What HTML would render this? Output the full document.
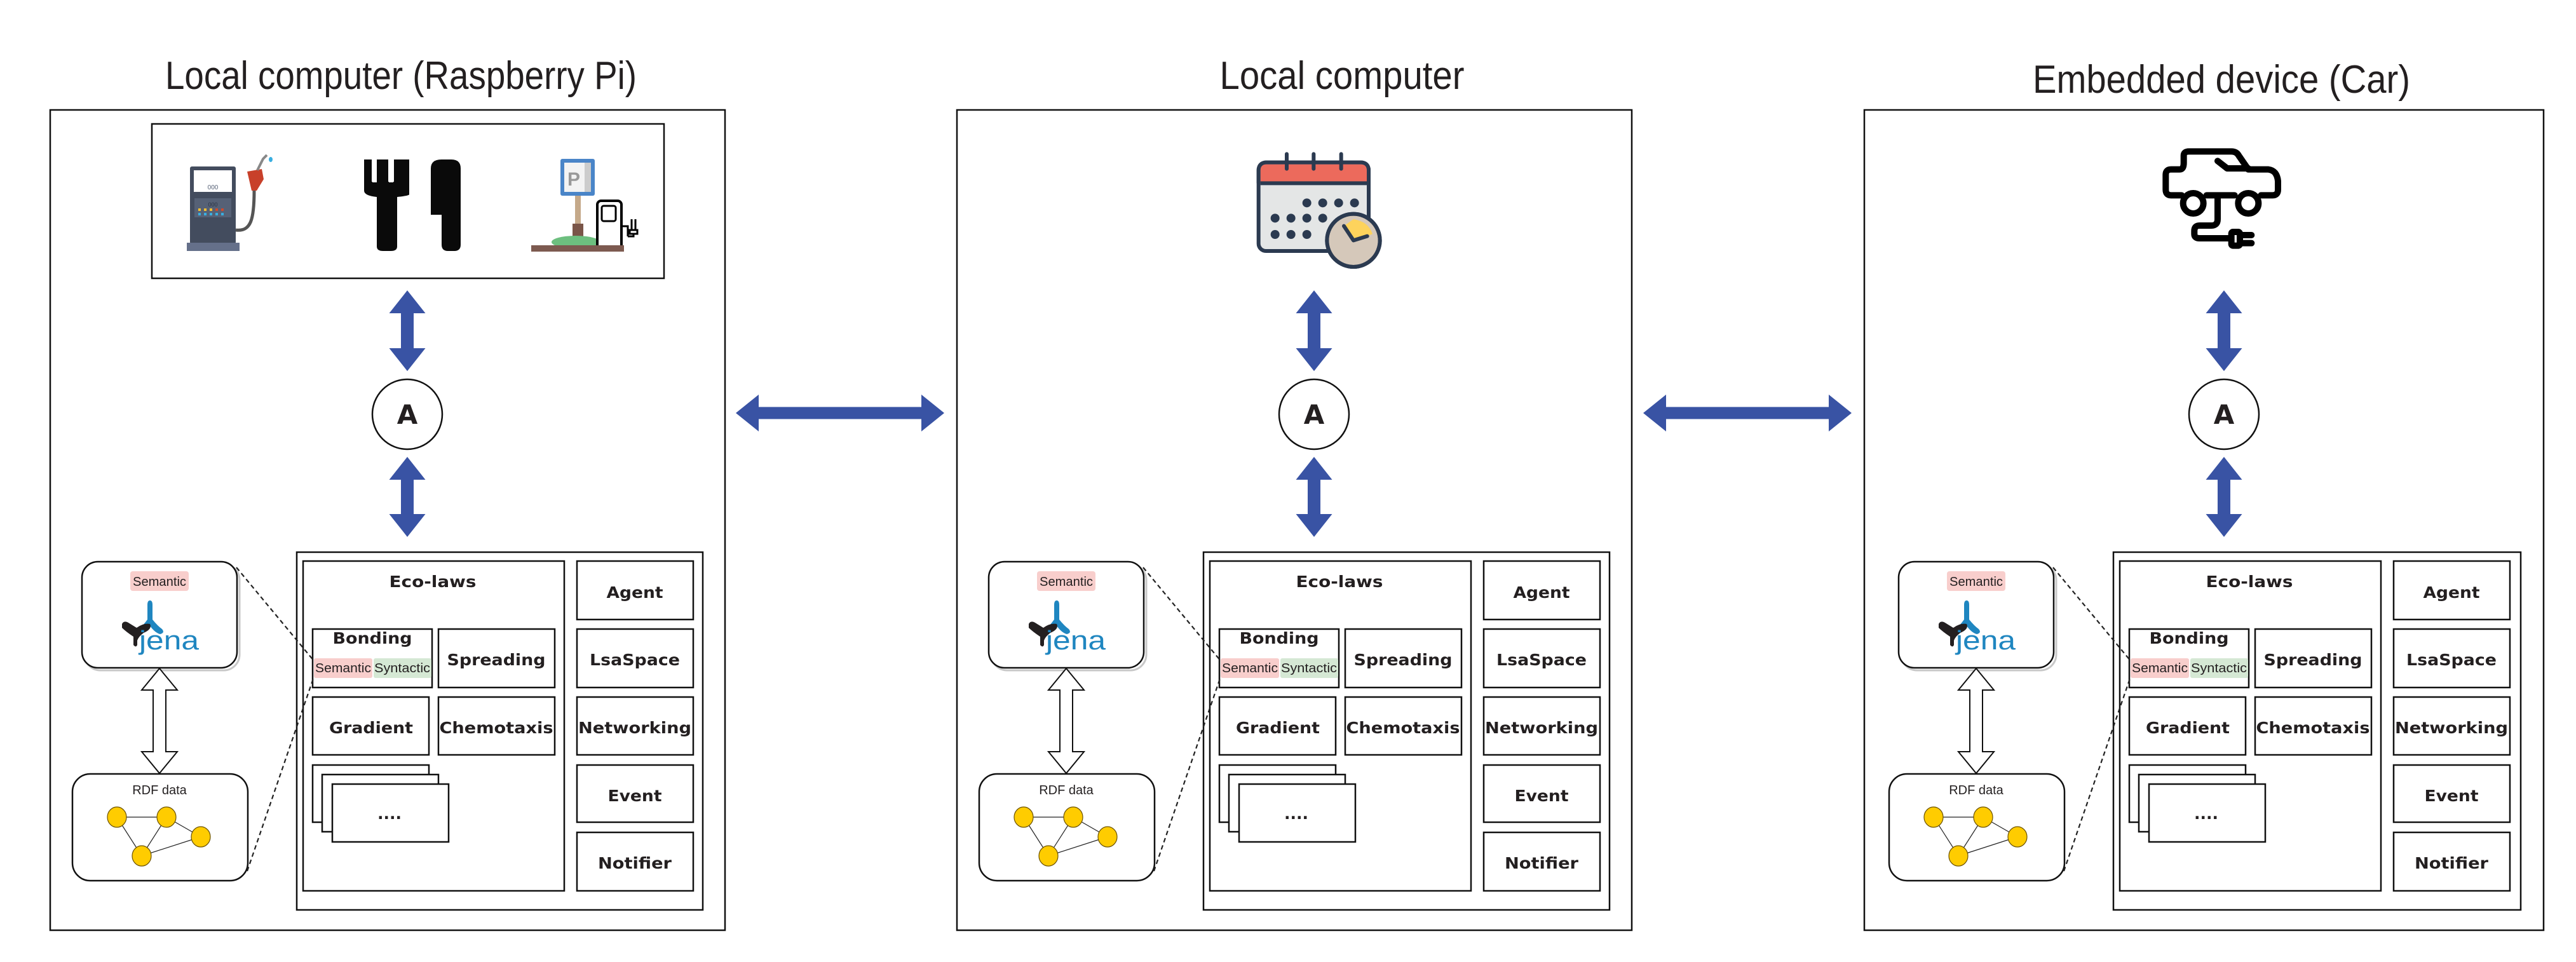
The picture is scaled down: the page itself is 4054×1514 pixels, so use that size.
<!DOCTYPE html>
<html><head><meta charset="utf-8">
<style>
html,body{margin:0;padding:0;background:#fff;}
svg{display:block;}
.t{font-family:"Liberation Sans",Arial,sans-serif;fill:#231f20;}
.b{font-family:"DejaVu Sans","Liberation Sans",sans-serif;font-weight:bold;fill:#231f20;font-size:25px;}
.bx{fill:#fff;stroke:#111;stroke-width:2.5;}
</style></head>
<body>
<svg width="4054" height="1514" viewBox="0 0 4054 1514" xmlns="http://www.w3.org/2000/svg">

<!-- Titles -->
<text class="t" x="631" y="140" font-size="62" text-anchor="middle" textLength="742" lengthAdjust="spacingAndGlyphs">Local computer (Raspberry Pi)</text>
<text class="t" x="2112" y="140" font-size="62" text-anchor="middle" textLength="385" lengthAdjust="spacingAndGlyphs">Local computer</text>
<text class="t" x="3496" y="146" font-size="62" text-anchor="middle" textLength="594" lengthAdjust="spacingAndGlyphs">Embedded device (Car)</text>

<!-- Outer panels -->
<rect class="bx" x="79" y="173" width="1062" height="1291"/>
<rect class="bx" x="1506" y="173" width="1062" height="1291"/>
<rect class="bx" x="2934" y="173" width="1069" height="1291"/>

<!-- Horizontal arrows -->
<polygon fill="#3953a4" points="1158,650 1194,621 1194,640.5 1450,640.5 1450,621 1486,650 1450,679 1450,659.5 1194,659.5 1194,679"/>
<polygon fill="#3953a4" points="2586,650 2622,621 2622,640.5 2878,640.5 2878,621 2914,650 2878,679 2878,659.5 2622,659.5 2622,679"/>

<!-- Panel 1 icons box -->
<rect class="bx" x="239" y="195" width="806" height="243"/>
<!-- gas pump -->
<rect x="299" y="262" width="72" height="122" rx="3" fill="#434c5e"/>
<rect x="294" y="382" width="83" height="13" fill="#65708a"/>
<rect x="305" y="268" width="60" height="34" fill="#fff"/>
<text x="335" y="298" font-size="10" text-anchor="middle" fill="#566176" font-family="Liberation Sans,sans-serif">000</text>
<rect x="306" y="312" width="58" height="30" fill="#566176"/>
<text x="335" y="325" font-size="9" text-anchor="middle" fill="#2c3444" font-family="Liberation Sans,sans-serif">000</text>
<g fill="#f5c033"><rect x="312" y="328" width="4" height="4"/><rect x="321" y="328" width="4" height="4"/><rect x="330" y="328" width="4" height="4"/></g>
<g fill="#d04a2c"><rect x="339" y="328" width="4" height="4"/><rect x="348" y="328" width="4" height="4"/></g>
<g fill="#39aee0"><rect x="312" y="335" width="4" height="4"/><rect x="321" y="335" width="4" height="4"/><rect x="330" y="335" width="4" height="4"/><rect x="339" y="335" width="4" height="4"/><rect x="348" y="335" width="4" height="4"/></g>
<path d="M371,362 C395,365 400,345 400,300" stroke="#555" stroke-width="5" fill="none"/>
<path d="M389,270 L412,266 L415,282 L404,300 L396,300 Z" fill="#c8402a"/>
<path d="M405,268 L414,250 L420,244" stroke="#888" stroke-width="4" fill="none"/>
<ellipse cx="426" cy="251" rx="3" ry="4" fill="#39aee0"/>
<!-- fork -->
<path d="M573,251 H585 V286 H593 V251 H611 V286 H620 V251 H644 V306 Q644,308 625,310 V388 Q625,395 615,395 H603 Q593,395 593,388 V310 Q573,308 573,300 Z" fill="#0a0a0a"/>
<rect x="586" y="251" width="7" height="36" fill="#fff"/>
<rect x="612" y="251" width="7" height="36" fill="#fff"/>
<!-- knife -->
<path d="M678,338 V265 Q678,251 695,251 H710 Q725,251 725,265 V385 Q725,395 715,395 H705 Q695,395 695,385 V338 Z" fill="#0a0a0a"/>
<!-- parking / charger -->
<rect x="882" y="250" width="54" height="58" rx="3" fill="#4a85c8"/>
<rect x="888" y="256" width="42" height="46" fill="#f3f3f3"/>
<rect x="920" y="256" width="10" height="46" fill="#ccc"/>
<text x="903" y="292" font-size="30" font-weight="bold" fill="#999" font-family="Liberation Sans,sans-serif" text-anchor="middle">P</text>
<rect x="905" y="308" width="9" height="50" fill="#c5a98a"/>
<rect x="901" y="352" width="17" height="25" fill="#7a5548"/>
<ellipse cx="906" cy="381" rx="38" ry="10" fill="#6dbf7f"/>
<rect x="940" y="316" width="38" height="76" rx="6" fill="#fff" stroke="#000" stroke-width="4"/>
<rect x="947" y="324" width="22" height="24" rx="3" fill="none" stroke="#000" stroke-width="3"/>
<path d="M978,356 H988 V372 M994,345 V362 M1000,345 V362 M991,362 H1003 V368 H991 Z M997,368 V372 H988" stroke="#000" stroke-width="3" fill="none"/>
<rect x="836" y="386" width="146" height="10" fill="#7d5a50"/>

<!-- Panel 2 calendar -->
<g transform="translate(1960,225) scale(0.33333)">
<rect x="62" y="92" width="520" height="418" rx="35" fill="#e4e6e6" stroke="#2b3a50" stroke-width="18"/>
<path d="M71,188 V130 Q71,101 100,101 H544 Q573,101 573,130 V188 Z" fill="#ec6a5c"/>
<line x1="71" y1="190" x2="573" y2="190" stroke="#2b3a50" stroke-width="18"/>
<path d="M62,190 V130 Q62,92 100,92 H544 Q582,92 582,130 V190" fill="none" stroke="#2b3a50" stroke-width="18"/>
<g stroke="#2b3a50" stroke-width="18" stroke-linecap="round"><line x1="195" y1="52" x2="195" y2="122"/><line x1="322" y1="52" x2="322" y2="122"/><line x1="452" y1="52" x2="452" y2="122"/></g>
<g fill="#2b3a50"><circle cx="290" cy="283" r="21"/><circle cx="365" cy="283" r="21"/><circle cx="440" cy="283" r="21"/><circle cx="515" cy="283" r="21"/>
<circle cx="140" cy="355" r="21"/><circle cx="215" cy="355" r="21"/><circle cx="290" cy="355" r="21"/><circle cx="365" cy="355" r="21"/>
<circle cx="140" cy="432" r="21"/><circle cx="215" cy="432" r="21"/><circle cx="290" cy="432" r="21"/></g>
<circle cx="510" cy="460" r="125" fill="#d5c8ba" stroke="#2b3a50" stroke-width="18"/>
<path d="M465,392 L510,460 L600,430 Q580,370 510,360 Z" fill="#fdd35c"/>
<path d="M465,392 L510,460 L575,440" stroke="#2b3a50" stroke-width="18" fill="none" stroke-linecap="round" stroke-linejoin="round"/>
<circle cx="510" cy="460" r="125" fill="none" stroke="#2b3a50" stroke-width="18"/>
</g>

<!-- Panel 3 car -->
<g transform="translate(3390,220) scale(0.33333)" fill="none" stroke="#000" stroke-width="30" stroke-linecap="round" stroke-linejoin="round">
<path d="M130,262 H80 Q55,262 55,235 V165 Q55,140 80,140 H120 Q140,140 140,110 V75 Q140,55 165,55 H365 Q390,55 400,75 L445,140 H540 Q580,145 585,195 V235 Q585,262 560,262 H505"/>
<path d="M300,100 L345,135 H445"/>
<line x1="248" y1="262" x2="380" y2="262"/>
<circle cx="185" cy="300" r="48"/>
<circle cx="445" cy="300" r="48"/>
<path d="M300,268 V375 Q300,405 270,405 H215 Q190,405 190,430 V445 Q190,465 215,465 H360"/>
<rect x="365" y="435" width="40" height="65" rx="8"/>
<path d="M410,450 H460 M410,488 H460"/>
</g>

<!-- ===== Core group (panel 1) ===== -->
<g>
<polygon fill="#3953a4" points="641,457 669.5,493 651,493 651,548 669.5,548 641,584 612.5,548 631,548 631,493 612.5,493"/>
<circle cx="641" cy="652" r="55" fill="#fff" stroke="#111" stroke-width="2.5"/>
<text class="b" x="641" y="667" style="font-size:42px" text-anchor="middle">A</text>
<polygon fill="#3953a4" points="641,719 669.5,755 651,755 651,809 669.5,809 641,845 612.5,809 631,809 631,755 612.5,755"/>

<rect class="bx" x="467" y="869" width="639" height="563"/>
<rect class="bx" x="477" y="883" width="411" height="519"/>
<text class="b" x="681" y="924" text-anchor="middle" textLength="137" lengthAdjust="spacingAndGlyphs">Eco-laws</text>
<rect class="bx" x="492" y="990" width="188" height="92"/>
<text class="b" x="586" y="1013" text-anchor="middle" textLength="125" lengthAdjust="spacingAndGlyphs">Bonding</text>
<rect x="494" y="1036" width="92" height="31" rx="3" fill="#f8cecc"/>
<rect x="588" y="1036" width="91" height="31" rx="3" fill="#d5e8d4"/>
<text class="t" x="540" y="1058" font-size="20" text-anchor="middle" textLength="88" lengthAdjust="spacingAndGlyphs">Semantic</text>
<text class="t" x="633" y="1058" font-size="20" text-anchor="middle" textLength="88" lengthAdjust="spacingAndGlyphs">Syntactic</text>
<rect class="bx" x="690" y="990" width="183" height="92"/>
<text class="b" x="781" y="1047" text-anchor="middle" textLength="155" lengthAdjust="spacingAndGlyphs">Spreading</text>
<rect class="bx" x="492" y="1097" width="183" height="91"/>
<text class="b" x="584" y="1154" text-anchor="middle" textLength="132" lengthAdjust="spacingAndGlyphs">Gradient</text>
<rect class="bx" x="690" y="1097" width="183" height="91"/>
<text class="b" x="781" y="1154" text-anchor="middle" textLength="179" lengthAdjust="spacingAndGlyphs">Chemotaxis</text>
<rect class="bx" x="492" y="1204" width="183" height="90"/>
<rect class="bx" x="507" y="1219" width="183" height="90"/>
<rect class="bx" x="523" y="1234" width="183" height="91"/>
<text class="b" x="613" y="1289" text-anchor="middle">....</text>

<rect class="bx" x="908" y="883" width="183" height="92"/>
<text class="b" x="999" y="941" text-anchor="middle" textLength="89" lengthAdjust="spacingAndGlyphs">Agent</text>
<rect class="bx" x="908" y="990" width="183" height="92"/>
<text class="b" x="999" y="1047" text-anchor="middle" textLength="142" lengthAdjust="spacingAndGlyphs">LsaSpace</text>
<rect class="bx" x="908" y="1097" width="183" height="91"/>
<text class="b" x="999" y="1154" text-anchor="middle" textLength="178" lengthAdjust="spacingAndGlyphs">Networking</text>
<rect class="bx" x="908" y="1204" width="183" height="90"/>
<text class="b" x="999" y="1261" text-anchor="middle" textLength="85" lengthAdjust="spacingAndGlyphs">Event</text>
<rect class="bx" x="908" y="1310" width="183" height="92"/>
<text class="b" x="999" y="1367" text-anchor="middle" textLength="116" lengthAdjust="spacingAndGlyphs">Notifier</text>

<rect x="133" y="888" width="244" height="167" rx="25" fill="none" stroke="#c8c8c8" stroke-width="3"/>
<rect x="129" y="884" width="244" height="167" rx="25" fill="#fff" stroke="#111" stroke-width="2.5"/>
<rect x="205" y="899" width="92" height="31" rx="4" fill="#f8cecc"/>
<text class="t" x="251" y="922" font-size="20" text-anchor="middle" textLength="84" lengthAdjust="spacingAndGlyphs">Semantic</text>
<path d="M232,952 Q232,945 236,945 Q240,945 240,952 V975 Q248,985 255,990 Q260,996 252,998 Q244,996 236,985 Q228,996 220,998 Q212,996 218,990 Q225,985 232,975 Z" fill="#1f86c0"/>
<path d="M192,982 Q195,976 202,980 L215,988 Q226,980 236,982 Q240,990 226,996 Q218,1002 216,1008 V1015 Q214,1020 210,1015 V1002 Q198,994 192,988 Z" fill="#231f20"/>
<text x="266" y="1022" font-size="42" text-anchor="middle" fill="#1f86c0" font-family="Liberation Sans,sans-serif" textLength="94" lengthAdjust="spacingAndGlyphs">jena</text>

<polygon fill="#fff" stroke="#111" stroke-width="2" points="251,1052 279,1086 261,1086 261,1183 279,1183 251,1217 223,1183 241,1183 241,1086 223,1086"/>

<rect x="114" y="1218" width="276" height="168" rx="28" fill="#fff" stroke="#111" stroke-width="2.5"/>
<text class="t" x="251" y="1250" font-size="20" text-anchor="middle">RDF data</text>
<g stroke="#222" stroke-width="1.2"><line x1="184" y1="1286" x2="262" y2="1286"/><line x1="184" y1="1286" x2="223" y2="1347"/><line x1="262" y1="1286" x2="223" y2="1347"/><line x1="262" y1="1286" x2="316" y2="1317"/><line x1="316" y1="1317" x2="223" y2="1347"/></g>
<g fill="#ffcc00" stroke="#6b5200" stroke-width="1.2"><ellipse cx="184" cy="1286" rx="15" ry="16"/><ellipse cx="262" cy="1286" rx="15" ry="16"/><ellipse cx="316" cy="1317" rx="15" ry="16"/><ellipse cx="223" cy="1347" rx="15" ry="16"/></g>

<line x1="372" y1="893" x2="494" y2="1040" stroke="#222" stroke-width="2.2" stroke-dasharray="7,5"/>
<line x1="389" y1="1371" x2="494" y2="1065" stroke="#222" stroke-width="2.2" stroke-dasharray="7,5"/>
</g>

<!-- ===== Core group (panel 2) ===== -->
<g transform="translate(1427,0)">
<polygon fill="#3953a4" points="641,457 669.5,493 651,493 651,548 669.5,548 641,584 612.5,548 631,548 631,493 612.5,493"/>
<circle cx="641" cy="652" r="55" fill="#fff" stroke="#111" stroke-width="2.5"/>
<text class="b" x="641" y="667" style="font-size:42px" text-anchor="middle">A</text>
<polygon fill="#3953a4" points="641,719 669.5,755 651,755 651,809 669.5,809 641,845 612.5,809 631,809 631,755 612.5,755"/>
<rect class="bx" x="467" y="869" width="639" height="563"/>
<rect class="bx" x="477" y="883" width="411" height="519"/>
<text class="b" x="681" y="924" text-anchor="middle" textLength="137" lengthAdjust="spacingAndGlyphs">Eco-laws</text>
<rect class="bx" x="492" y="990" width="188" height="92"/>
<text class="b" x="586" y="1013" text-anchor="middle" textLength="125" lengthAdjust="spacingAndGlyphs">Bonding</text>
<rect x="494" y="1036" width="92" height="31" rx="3" fill="#f8cecc"/>
<rect x="588" y="1036" width="91" height="31" rx="3" fill="#d5e8d4"/>
<text class="t" x="540" y="1058" font-size="20" text-anchor="middle" textLength="88" lengthAdjust="spacingAndGlyphs">Semantic</text>
<text class="t" x="633" y="1058" font-size="20" text-anchor="middle" textLength="88" lengthAdjust="spacingAndGlyphs">Syntactic</text>
<rect class="bx" x="690" y="990" width="183" height="92"/>
<text class="b" x="781" y="1047" text-anchor="middle" textLength="155" lengthAdjust="spacingAndGlyphs">Spreading</text>
<rect class="bx" x="492" y="1097" width="183" height="91"/>
<text class="b" x="584" y="1154" text-anchor="middle" textLength="132" lengthAdjust="spacingAndGlyphs">Gradient</text>
<rect class="bx" x="690" y="1097" width="183" height="91"/>
<text class="b" x="781" y="1154" text-anchor="middle" textLength="179" lengthAdjust="spacingAndGlyphs">Chemotaxis</text>
<rect class="bx" x="492" y="1204" width="183" height="90"/>
<rect class="bx" x="507" y="1219" width="183" height="90"/>
<rect class="bx" x="523" y="1234" width="183" height="91"/>
<text class="b" x="613" y="1289" text-anchor="middle">....</text>
<rect class="bx" x="908" y="883" width="183" height="92"/>
<text class="b" x="999" y="941" text-anchor="middle" textLength="89" lengthAdjust="spacingAndGlyphs">Agent</text>
<rect class="bx" x="908" y="990" width="183" height="92"/>
<text class="b" x="999" y="1047" text-anchor="middle" textLength="142" lengthAdjust="spacingAndGlyphs">LsaSpace</text>
<rect class="bx" x="908" y="1097" width="183" height="91"/>
<text class="b" x="999" y="1154" text-anchor="middle" textLength="178" lengthAdjust="spacingAndGlyphs">Networking</text>
<rect class="bx" x="908" y="1204" width="183" height="90"/>
<text class="b" x="999" y="1261" text-anchor="middle" textLength="85" lengthAdjust="spacingAndGlyphs">Event</text>
<rect class="bx" x="908" y="1310" width="183" height="92"/>
<text class="b" x="999" y="1367" text-anchor="middle" textLength="116" lengthAdjust="spacingAndGlyphs">Notifier</text>
<rect x="133" y="888" width="244" height="167" rx="25" fill="none" stroke="#c8c8c8" stroke-width="3"/>
<rect x="129" y="884" width="244" height="167" rx="25" fill="#fff" stroke="#111" stroke-width="2.5"/>
<rect x="205" y="899" width="92" height="31" rx="4" fill="#f8cecc"/>
<text class="t" x="251" y="922" font-size="20" text-anchor="middle" textLength="84" lengthAdjust="spacingAndGlyphs">Semantic</text>
<path d="M232,952 Q232,945 236,945 Q240,945 240,952 V975 Q248,985 255,990 Q260,996 252,998 Q244,996 236,985 Q228,996 220,998 Q212,996 218,990 Q225,985 232,975 Z" fill="#1f86c0"/>
<path d="M192,982 Q195,976 202,980 L215,988 Q226,980 236,982 Q240,990 226,996 Q218,1002 216,1008 V1015 Q214,1020 210,1015 V1002 Q198,994 192,988 Z" fill="#231f20"/>
<text x="266" y="1022" font-size="42" text-anchor="middle" fill="#1f86c0" font-family="Liberation Sans,sans-serif" textLength="94" lengthAdjust="spacingAndGlyphs">jena</text>
<polygon fill="#fff" stroke="#111" stroke-width="2" points="251,1052 279,1086 261,1086 261,1183 279,1183 251,1217 223,1183 241,1183 241,1086 223,1086"/>
<rect x="114" y="1218" width="276" height="168" rx="28" fill="#fff" stroke="#111" stroke-width="2.5"/>
<text class="t" x="251" y="1250" font-size="20" text-anchor="middle">RDF data</text>
<g stroke="#222" stroke-width="1.2"><line x1="184" y1="1286" x2="262" y2="1286"/><line x1="184" y1="1286" x2="223" y2="1347"/><line x1="262" y1="1286" x2="223" y2="1347"/><line x1="262" y1="1286" x2="316" y2="1317"/><line x1="316" y1="1317" x2="223" y2="1347"/></g>
<g fill="#ffcc00" stroke="#6b5200" stroke-width="1.2"><ellipse cx="184" cy="1286" rx="15" ry="16"/><ellipse cx="262" cy="1286" rx="15" ry="16"/><ellipse cx="316" cy="1317" rx="15" ry="16"/><ellipse cx="223" cy="1347" rx="15" ry="16"/></g>
<line x1="372" y1="893" x2="494" y2="1040" stroke="#222" stroke-width="2.2" stroke-dasharray="7,5"/>
<line x1="389" y1="1371" x2="494" y2="1065" stroke="#222" stroke-width="2.2" stroke-dasharray="7,5"/>
</g>

<!-- ===== Core group (panel 3) ===== -->
<g transform="translate(2859,0)">
<polygon fill="#3953a4" points="641,457 669.5,493 651,493 651,548 669.5,548 641,584 612.5,548 631,548 631,493 612.5,493"/>
<circle cx="641" cy="652" r="55" fill="#fff" stroke="#111" stroke-width="2.5"/>
<text class="b" x="641" y="667" style="font-size:42px" text-anchor="middle">A</text>
<polygon fill="#3953a4" points="641,719 669.5,755 651,755 651,809 669.5,809 641,845 612.5,809 631,809 631,755 612.5,755"/>
<rect class="bx" x="467" y="869" width="641" height="563"/>
<rect class="bx" x="477" y="883" width="411" height="519"/>
<text class="b" x="681" y="924" text-anchor="middle" textLength="137" lengthAdjust="spacingAndGlyphs">Eco-laws</text>
<rect class="bx" x="492" y="990" width="188" height="92"/>
<text class="b" x="586" y="1013" text-anchor="middle" textLength="125" lengthAdjust="spacingAndGlyphs">Bonding</text>
<rect x="494" y="1036" width="92" height="31" rx="3" fill="#f8cecc"/>
<rect x="588" y="1036" width="91" height="31" rx="3" fill="#d5e8d4"/>
<text class="t" x="540" y="1058" font-size="20" text-anchor="middle" textLength="88" lengthAdjust="spacingAndGlyphs">Semantic</text>
<text class="t" x="633" y="1058" font-size="20" text-anchor="middle" textLength="88" lengthAdjust="spacingAndGlyphs">Syntactic</text>
<rect class="bx" x="690" y="990" width="183" height="92"/>
<text class="b" x="781" y="1047" text-anchor="middle" textLength="155" lengthAdjust="spacingAndGlyphs">Spreading</text>
<rect class="bx" x="492" y="1097" width="183" height="91"/>
<text class="b" x="584" y="1154" text-anchor="middle" textLength="132" lengthAdjust="spacingAndGlyphs">Gradient</text>
<rect class="bx" x="690" y="1097" width="183" height="91"/>
<text class="b" x="781" y="1154" text-anchor="middle" textLength="179" lengthAdjust="spacingAndGlyphs">Chemotaxis</text>
<rect class="bx" x="492" y="1204" width="183" height="90"/>
<rect class="bx" x="507" y="1219" width="183" height="90"/>
<rect class="bx" x="523" y="1234" width="183" height="91"/>
<text class="b" x="613" y="1289" text-anchor="middle">....</text>
<rect class="bx" x="908" y="883" width="183" height="92"/>
<text class="b" x="999" y="941" text-anchor="middle" textLength="89" lengthAdjust="spacingAndGlyphs">Agent</text>
<rect class="bx" x="908" y="990" width="183" height="92"/>
<text class="b" x="999" y="1047" text-anchor="middle" textLength="142" lengthAdjust="spacingAndGlyphs">LsaSpace</text>
<rect class="bx" x="908" y="1097" width="183" height="91"/>
<text class="b" x="999" y="1154" text-anchor="middle" textLength="178" lengthAdjust="spacingAndGlyphs">Networking</text>
<rect class="bx" x="908" y="1204" width="183" height="90"/>
<text class="b" x="999" y="1261" text-anchor="middle" textLength="85" lengthAdjust="spacingAndGlyphs">Event</text>
<rect class="bx" x="908" y="1310" width="183" height="92"/>
<text class="b" x="999" y="1367" text-anchor="middle" textLength="116" lengthAdjust="spacingAndGlyphs">Notifier</text>
<rect x="133" y="888" width="244" height="167" rx="25" fill="none" stroke="#c8c8c8" stroke-width="3"/>
<rect x="129" y="884" width="244" height="167" rx="25" fill="#fff" stroke="#111" stroke-width="2.5"/>
<rect x="205" y="899" width="92" height="31" rx="4" fill="#f8cecc"/>
<text class="t" x="251" y="922" font-size="20" text-anchor="middle" textLength="84" lengthAdjust="spacingAndGlyphs">Semantic</text>
<path d="M232,952 Q232,945 236,945 Q240,945 240,952 V975 Q248,985 255,990 Q260,996 252,998 Q244,996 236,985 Q228,996 220,998 Q212,996 218,990 Q225,985 232,975 Z" fill="#1f86c0"/>
<path d="M192,982 Q195,976 202,980 L215,988 Q226,980 236,982 Q240,990 226,996 Q218,1002 216,1008 V1015 Q214,1020 210,1015 V1002 Q198,994 192,988 Z" fill="#231f20"/>
<text x="266" y="1022" font-size="42" text-anchor="middle" fill="#1f86c0" font-family="Liberation Sans,sans-serif" textLength="94" lengthAdjust="spacingAndGlyphs">jena</text>
<polygon fill="#fff" stroke="#111" stroke-width="2" points="251,1052 279,1086 261,1086 261,1183 279,1183 251,1217 223,1183 241,1183 241,1086 223,1086"/>
<rect x="114" y="1218" width="276" height="168" rx="28" fill="#fff" stroke="#111" stroke-width="2.5"/>
<text class="t" x="251" y="1250" font-size="20" text-anchor="middle">RDF data</text>
<g stroke="#222" stroke-width="1.2"><line x1="184" y1="1286" x2="262" y2="1286"/><line x1="184" y1="1286" x2="223" y2="1347"/><line x1="262" y1="1286" x2="223" y2="1347"/><line x1="262" y1="1286" x2="316" y2="1317"/><line x1="316" y1="1317" x2="223" y2="1347"/></g>
<g fill="#ffcc00" stroke="#6b5200" stroke-width="1.2"><ellipse cx="184" cy="1286" rx="15" ry="16"/><ellipse cx="262" cy="1286" rx="15" ry="16"/><ellipse cx="316" cy="1317" rx="15" ry="16"/><ellipse cx="223" cy="1347" rx="15" ry="16"/></g>
<line x1="372" y1="893" x2="494" y2="1040" stroke="#222" stroke-width="2.2" stroke-dasharray="7,5"/>
<line x1="389" y1="1371" x2="494" y2="1065" stroke="#222" stroke-width="2.2" stroke-dasharray="7,5"/>
</g>
</svg>
</body></html>
